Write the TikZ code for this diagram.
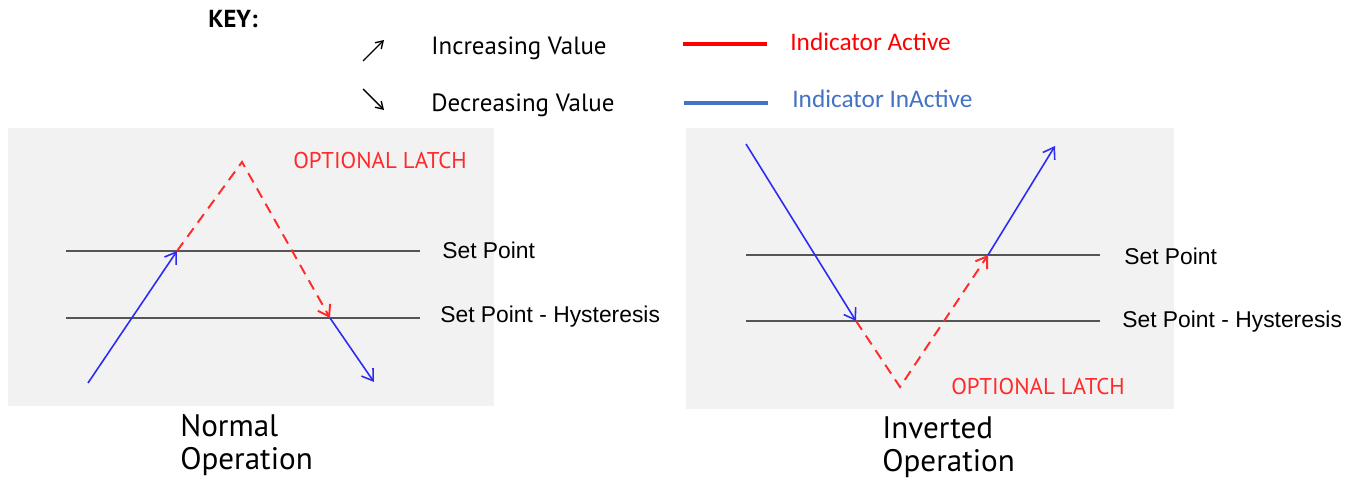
\documentclass[tikz,border=0pt]{standalone}
\usepackage{fontspec}
\setmainfont{Liberation Sans}
\newfontfamily\keyfont{PT Sans}
\newfontfamily\calfont{Carlito}
\usetikzlibrary{arrows.meta}
\definecolor{panelgray}{HTML}{F2F2F2}
\definecolor{trackblue}{HTML}{2B2BF5}
\definecolor{trackred}{HTML}{FF2A2A}
\definecolor{keyblue}{HTML}{4472C4}
\definecolor{levelgray}{HTML}{555555}
\begin{document}
\begin{tikzpicture}[x=0.02cm,y=-0.02cm,
  >={Straight Barb[length=6pt,width=8pt]},
  panel/.style={fill=panelgray,draw=none},
  level/.style={levelgray,line width=1.3pt},
  inactive/.style={trackblue,line width=0.9pt},
  active/.style={trackred,line width=1.1pt,dash pattern=on 6pt off 4pt},
  lbl/.style={anchor=base west,inner sep=0pt,font=\fontsize{13}{15}\selectfont},
  latch/.style={anchor=base west,inner sep=0pt,text=trackred,font=\keyfont\fontsize{13}{15}\selectfont},
  title/.style={anchor=base west,inner sep=0pt,font=\keyfont\fontsize{17.7}{20}\selectfont},
  keytext/.style={anchor=base west,inner sep=0pt,font=\keyfont\fontsize{14.2}{16}\selectfont}]
 \useasboundingbox (0,0) rectangle (1361,479);
 % key
 \node[keytext,font=\keyfont\bfseries\fontsize{14}{16}\selectfont] (key) at (208,28) {KEY:};
 \coordinate (up0) at (363,61);  \coordinate (up1) at (384,40);
 \coordinate (dn0) at (363,89);  \coordinate (dn1) at (384,110);
 \draw[->,line width=0.8pt,>={Straight Barb[length=4pt,width=5pt]}] (up0) -- (up1);
 \draw[->,line width=0.8pt,>={Straight Barb[length=4pt,width=5pt]}] (dn0) -- (dn1);
 \node[keytext] (inc) at (431,55) {Increasing Value};
 \node[keytext] (dec) at (431,112) {Decreasing Value};
 \coordinate (ra) at (683,44);  \coordinate (rb) at (767,44);
 \coordinate (ba) at (684,103); \coordinate (bb) at (768,103);
 \draw[red,line width=2.2pt] (ra) -- (rb);
 \draw[keyblue,line width=2.2pt] (ba) -- (bb);
 \node[keytext,text=red,font=\calfont\fontsize{14.4}{16}\selectfont] (act) at (790,51) {Indicator Active};
 \node[keytext,text=keyblue,font=\calfont\fontsize{14.4}{16}\selectfont] (inact) at (792,108) {Indicator InActive};
 % normal operation
 \fill[panel] (8,128) rectangle (494,406);
 \coordinate (nsa) at (66,251);  \coordinate (nsb) at (420,251);
 \coordinate (nha) at (66,318);  \coordinate (nhb) at (420,318);
 \draw[level] (nsa) -- (nsb);
 \draw[level] (nha) -- (nhb);
 \coordinate (n0) at (88,383);  \coordinate (n1) at (177,251);
 \coordinate (n2) at (242,162); \coordinate (n3) at (330,318);
 \coordinate (n4) at (374,382);
 \draw[inactive,->] (n0) -- (n1);
 \draw[active,->] (n1) -- (n2) -- (n3);
 \draw[inactive,->] (n3) -- (n4);
 \node[latch] (nlatch) at (293,169) {OPTIONAL LATCH};
 \node[lbl] (nsp) at (442,259) {Set Point};
 \node[lbl] (nhy) at (440,322) {Set Point - Hysteresis};
 \node[title] (ntop) at (180,436) {Normal};
 \node[title] (nbot) at (180,469) {Operation};
 % inverted operation
 \fill[panel] (686,128) rectangle (1174,409);
 \coordinate (isa) at (746,255);  \coordinate (isb) at (1100,255);
 \coordinate (iha) at (746,321);  \coordinate (ihb) at (1100,321);
 \draw[level] (isa) -- (isb);
 \draw[level] (iha) -- (ihb);
 \coordinate (i0) at (746,144);  \coordinate (i1) at (856,321);
 \coordinate (i2) at (900,387);  \coordinate (i3) at (988,255);
 \coordinate (i4) at (1055,146);
 \draw[inactive,->] (i0) -- (i1);
 \draw[active,->] (i1) -- (i2) -- (i3);
 \draw[inactive,->] (i3) -- (i4);
 \node[latch] (ilatch) at (951,394) {OPTIONAL LATCH};
 \node[lbl] (isp) at (1124,265) {Set Point};
 \node[lbl] (ihy) at (1122,327) {Set Point - Hysteresis};
 \node[title] (itop) at (882,438) {Inverted};
 \node[title] (ibot) at (882,471) {Operation};
\end{tikzpicture}
\end{document}
